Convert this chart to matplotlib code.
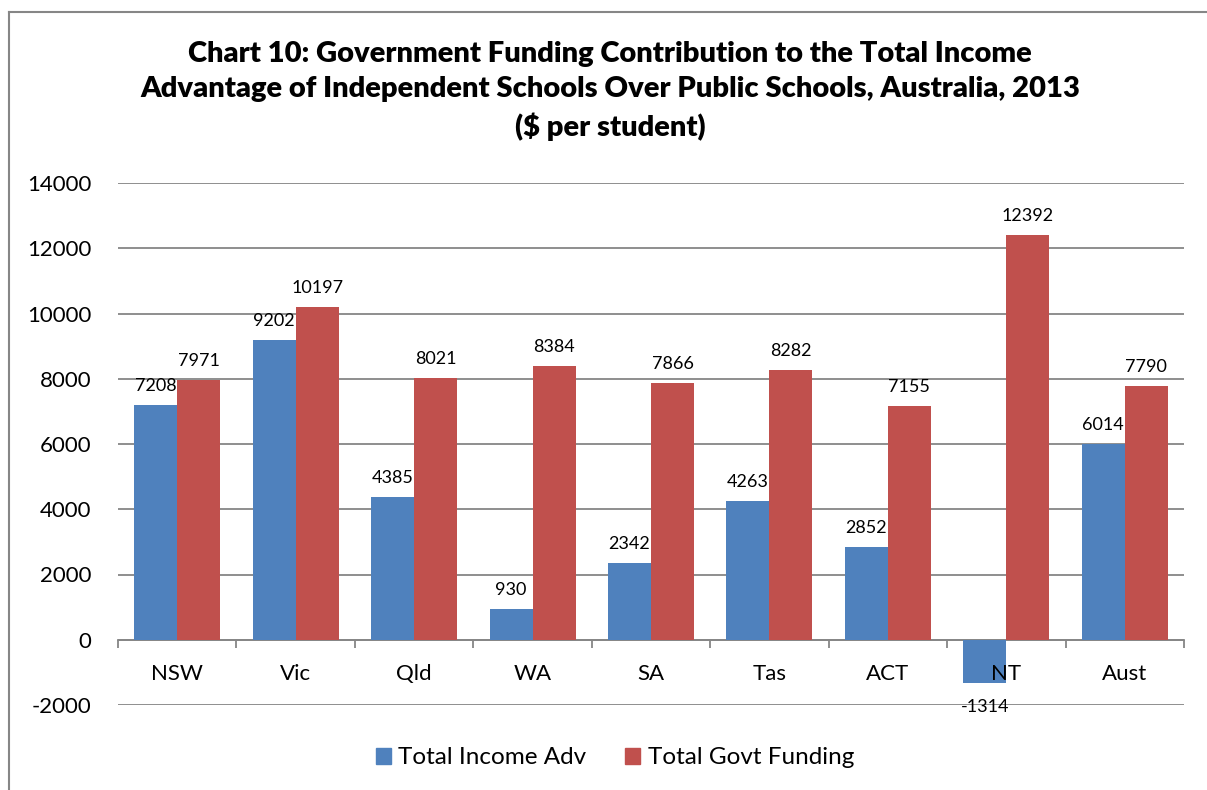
import matplotlib
matplotlib.use("Agg")
import matplotlib.pyplot as plt
from matplotlib.lines import Line2D
from matplotlib.patches import Patch
import numpy as np

plt.rcParams['font.family'] = ['Lato', 'DejaVu Sans']
plt.rcParams['axes.unicode_minus'] = False

states = ['NSW', 'Vic', 'Qld', 'WA', 'SA', 'Tas', 'ACT', 'NT', 'Aust']
income_adv = [7208, 9202, 4385, 930, 2342, 4263, 2852, -1314, 6014]
govt_funding = [7971, 10197, 8021, 8384, 7866, 8282, 7155, 12392, 7790]
series_names = ['Total Income Adv', 'Total Govt Funding']

blue = '#4F81BD'
red = '#C0504D'
grey = '#868686'

W, H = 1207, 790
fig = plt.figure(figsize=(W / 100, H / 100), dpi=100)

# plot area in pixel terms
left, right, top, bottom = 118, 1184, 183, 705
ax = fig.add_axes([left / W, 1 - bottom / H, (right - left) / W, (bottom - top) / H])

x = np.arange(len(states))
w = 0.363
b1 = ax.bar(x - w / 2, income_adv, w, color=blue, zorder=3)
b2 = ax.bar(x + w / 2, govt_funding, w, color=red, zorder=3)

ax.set_xlim(-0.5, len(states) - 0.5)
ax.set_ylim(-2000, 14000)
ax.set_yticks(np.arange(-2000, 14001, 2000))
ax.yaxis.grid(True, color=grey, linewidth=1.3, zorder=0)
ax.set_axisbelow(True)
ax.tick_params(axis='y', length=0, pad=19, labelsize=16)

for s in ['top', 'right', 'left']:
    ax.spines[s].set_visible(False)
ax.spines['bottom'].set_position(('data', 0))
ax.spines['bottom'].set_color(grey)
ax.spines['bottom'].set_linewidth(1.3)
ax.set_xticks(np.arange(-0.5, len(states), 1.0))
ax.set_xticklabels([])
ax.tick_params(axis='x', direction='out', length=6, width=1.3, color=grey)

for i, name in enumerate(states):
    ax.annotate(name, xy=(i, 0), xytext=(0, -34), textcoords='offset pixels',
                ha='center', va='center', fontsize=16)

def label_bars(bars, vals):
    for rect, v in zip(bars, vals):
        cx = rect.get_x() + rect.get_width() / 2
        if v >= 0:
            ax.annotate(str(v), xy=(cx, v), xytext=(0, 11), textcoords='offset pixels',
                        ha='center', va='bottom', fontsize=13)
        else:
            ax.annotate(str(v), xy=(cx, v), xytext=(0, -16), textcoords='offset pixels',
                        ha='center', va='top', fontsize=13)

label_bars(b1, income_adv)
label_bars(b2, govt_funding)

fig.text(610 / W, 1 - 91 / H,
         'Chart 10: Government Funding Contribution to the Total Income\n'
         'Advantage of Independent Schools Over Public Schools, Australia, 2013\n'
         '($ per student)',
         ha='center', va='center', fontsize=21, fontweight='heavy', linespacing=1.45)

handles = [Patch(color=blue), Patch(color=red)]
fig.legend(handles, series_names, loc='center', bbox_to_anchor=(615 / W, 1 - 758 / H),
           ncol=2, frameon=False, fontsize=17.5, handlelength=0.62, handleheight=0.62,
           handletextpad=0.3, columnspacing=1.6)

# chart border
fig.add_artist(Line2D([9 / W, 9 / W], [0, 1 - 12 / H], color=grey, linewidth=1.5))
fig.add_artist(Line2D([9 / W, 1], [1 - 12 / H, 1 - 12 / H], color=grey, linewidth=1.5))

fig.savefig('out.png', dpi=100)
